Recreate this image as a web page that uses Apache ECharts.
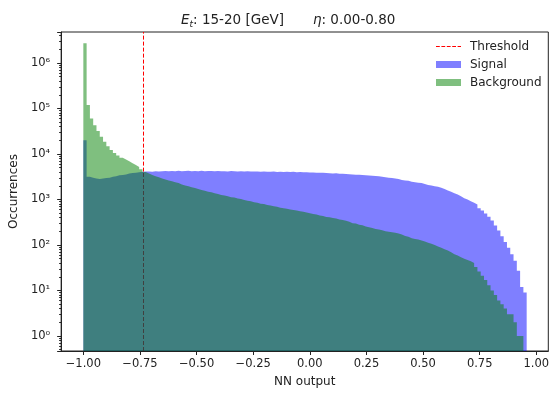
<!DOCTYPE html>
<html>
<head>
<meta charset="utf-8">
<script src="https://cdn.jsdelivr.net/npm/echarts@6/dist/echarts.min.js"></script>
<style>
  html, body { margin: 0; padding: 0; background: #fff; }
  #chart { width: 552px; height: 394px; }
</style>
</head>
<body>
<div id="chart"></div>
<script>
// histogram bins: left edge of first bin and bin width (NN output units)
const binStart = -1.0;
const binWidth = 0.0145;

// counts per bin
const signalCounts = [
  20000, 3160, 3020, 2880, 2820, 2880, 2950, 3020, 3160, 3240,
  3390, 3470, 3550, 3720, 3800, 3890, 3980, 4070, 4100, 4150,
  4080, 4200, 4130, 4180, 4250, 4160, 4220, 4190, 4260, 4170,
  4230, 4280, 4190, 4240, 4200, 4270, 4180, 4230, 4210, 4160,
  4240, 4190, 4200, 4150, 4210, 4170, 4130, 4190, 4140, 4160,
  4100, 4150, 4120, 4080, 4130, 4090, 4060, 4110, 4040, 4080,
  4030, 4080, 4020, 4060, 3990, 4010, 3960, 3980, 3920, 3940,
  3880, 3850, 3870, 3800, 3780, 3740, 3760, 3690, 3660, 3620,
  3600, 3560, 3520, 3490, 3440, 3400, 3370, 3320, 3280, 3230,
  3160, 3090, 3020, 2950, 2880, 2820, 2690, 2630, 2570, 2450,
  2400, 2340, 2290, 2190, 2090, 2040, 1950, 1900, 1820, 1700,
  1585, 1480, 1380, 1290, 1175, 1070, 1000, 912, 851, 776,
  646, 575, 490, 417, 347, 269, 209, 155, 117, 87,
  63, 45, 27, 12, 9
];
const backgroundCounts = [
  2700000, 120000, 60000, 43000, 32000, 24000, 18500, 14800, 12300, 10500,
  9300, 8300, 7600, 6900, 6300, 5700, 5200, 4600, 4000, 3720,
  3470, 3240, 3090, 2880, 2750, 2630, 2510, 2400, 2290, 2140,
  2040, 1950, 1860, 1780, 1700, 1620, 1550, 1480, 1445, 1380,
  1320, 1260, 1230, 1175, 1120, 1100, 1050, 1020, 980, 935,
  910, 870, 850, 810, 795, 760, 740, 710, 690, 660,
  645, 630, 605, 590, 575, 550, 535, 515, 500, 480,
  470, 445, 435, 415, 405, 390, 380, 365, 355, 340,
  325, 300, 295, 280, 270, 255, 245, 235, 225, 220,
  210, 200, 195, 190, 185, 178, 170, 158, 151, 141,
  135, 132, 126, 120, 112, 107, 100, 93, 87, 81,
  76, 69, 63, 59, 54, 50, 47, 44, 40, 33,
  26, 21, 17, 13, 10, 8, 6, 5, 4, 3,
  3, 2, 1, 1
];
const threshold = -0.737;

const xTicks = [-1, -0.75, -0.5, -0.25, 0, 0.25, 0.5, 0.75, 1];
const xMin = -1.098, xMax = 1.053;
const yMin = 0.468, yMax = 4.8e6;

const FONT = "DejaVu Sans";
const INK = "#222";
const RED = "#ff0000";
// red seen through the two half-transparent histograms
const RED_UNDER = "#404040";
// dashed line used as the legend key of the threshold
const DASH_ICON = "path://M0,0h3.8v1h-3.8zM5.4,0h3.8v1h-3.8zM10.8,0h3.8v1h-3.8zM16.2,0h3.8v1h-3.8zM21.6,0h3.4v1h-3.4z";

// step outline: left edge of every bin, plus the right edge of the last one
function steps(counts) {
  const pts = counts.map((c, i) => [binStart + i * binWidth, c]);
  pts.push([binStart + counts.length * binWidth, counts[counts.length - 1]]);
  return pts;
}

// height of the histograms in the bin that holds the threshold
const thrBin = Math.floor((threshold - binStart) / binWidth);
const thrTop = Math.max(signalCounts[thrBin], backgroundCounts[thrBin]);

const sup = { "0": "⁰", "1": "¹", "2": "²", "3": "³", "4": "⁴", "5": "⁵", "6": "⁶", "-": "⁻" };
function powLabel(v) {
  const e = Math.log10(v);
  if (Math.abs(e - Math.round(e)) > 1e-6) return "";
  return "10" + String(Math.round(e)).split("").map((ch) => sup[ch]).join("");
}
function xLabel(v) {
  const s = Math.abs(v).toFixed(2);
  return v < 0 ? "\u2212" + s : s;
}

const chart = echarts.init(document.getElementById("chart"), null, { renderer: "canvas" });

chart.setOption({
  animation: false,
  backgroundColor: "#fff",
  title: {
    text: "{i|E}{sub|t}{n|: 15-20 [GeV]}{gap|}{i|η}{n|: 0.00-0.80}",
    left: 176,
    top: 6,
    textStyle: {
      fontWeight: "normal",
      rich: {
        n: { fontFamily: FONT, fontSize: 13.5, fontWeight: "normal", color: INK, lineHeight: 17 },
        i: { fontFamily: FONT, fontSize: 13.5, fontWeight: "normal", fontStyle: "italic", color: INK, lineHeight: 17 },
        sub: { fontFamily: FONT, fontSize: 9, fontWeight: "normal", fontStyle: "italic", color: INK, verticalAlign: "bottom", lineHeight: 17 },
        gap: { width: 29 },
      },
    },
  },
  legend: {
    orient: "vertical",
    left: 431,
    top: 35,
    itemWidth: 25,
    itemHeight: 7,
    itemGap: 5,
    textStyle: { fontFamily: FONT, fontSize: 12, color: INK, lineHeight: 13, padding: [0, 0, 0, 4] },
    data: [
      { name: "Threshold", icon: DASH_ICON, itemStyle: { color: RED } },
      { name: "Signal", icon: "rect" },
      { name: "Background", icon: "rect" },
    ],
  },
  grid: {
    left: 57, right: 3, top: 32, bottom: 43,
    show: true, borderColor: INK, borderWidth: 1, backgroundColor: "transparent",
  },
  xAxis: {
    type: "value",
    min: xMin,
    max: xMax,
    name: "NN output",
    nameLocation: "middle",
    nameGap: 25,
    nameTextStyle: { fontFamily: FONT, fontSize: 12, color: INK },
    axisLine: { onZero: false, lineStyle: { color: INK, width: 1 } },
    axisTick: { customValues: xTicks, length: 4, lineStyle: { color: INK } },
    axisLabel: { customValues: xTicks, formatter: xLabel, margin: 7, fontFamily: FONT, fontSize: 11.5, color: INK },
    splitLine: { show: false },
  },
  yAxis: {
    type: "log",
    logBase: 10,
    min: yMin,
    max: yMax,
    name: "Occurrences",
    nameLocation: "middle",
    nameGap: 37,
    nameTextStyle: { fontFamily: FONT, fontSize: 12, color: INK },
    axisLine: { show: true, onZero: false, lineStyle: { color: INK, width: 1 } },
    axisTick: { show: true, length: 4, lineStyle: { color: INK } },
    minorTick: { show: true, splitNumber: 9, length: 2, lineStyle: { color: INK } },
    axisLabel: { formatter: powLabel, margin: 11, fontFamily: FONT, fontSize: 11.5, color: INK, showMinLabel: false, showMaxLabel: false },
    splitLine: { show: false },
    minorSplitLine: { show: false },
  },
  series: [
    {
      name: "Threshold",
      type: "line",
      data: [],
      symbol: "none",
      z: 1,
      itemStyle: { color: RED },
      lineStyle: { color: RED, type: [4, 2], width: 1 },
      markLine: {
        silent: true,
        symbol: ["none", "none"],
        label: { show: false },
        itemStyle: { color: RED },
        lineStyle: { color: RED, type: [4, 2], width: 1, opacity: 1 },
        emphasis: { disabled: true },
        data: [
          [
            { coord: [threshold, thrTop], lineStyle: { color: RED } },
            { coord: [threshold, yMax] },
          ],
          [
            { coord: [threshold, yMin], lineStyle: { color: RED_UNDER } },
            { coord: [threshold, thrTop] },
          ],
        ],
      },
    },
    {
      name: "Signal",
      type: "line",
      step: "end",
      data: steps(signalCounts),
      symbol: "none",
      z: 2,
      silent: true,
      lineStyle: { width: 0 },
      itemStyle: { color: "rgba(0,0,255,0.5)" },
      areaStyle: { color: "rgba(0,0,255,0.5)", opacity: 1, origin: yMin },
    },
    {
      name: "Background",
      type: "line",
      step: "end",
      data: steps(backgroundCounts),
      symbol: "none",
      z: 3,
      silent: true,
      lineStyle: { width: 0 },
      itemStyle: { color: "rgba(0,128,0,0.5)" },
      areaStyle: { color: "rgba(0,128,0,0.5)", opacity: 1, origin: yMin },
    },
  ],
});
</script>
</body>
</html>
